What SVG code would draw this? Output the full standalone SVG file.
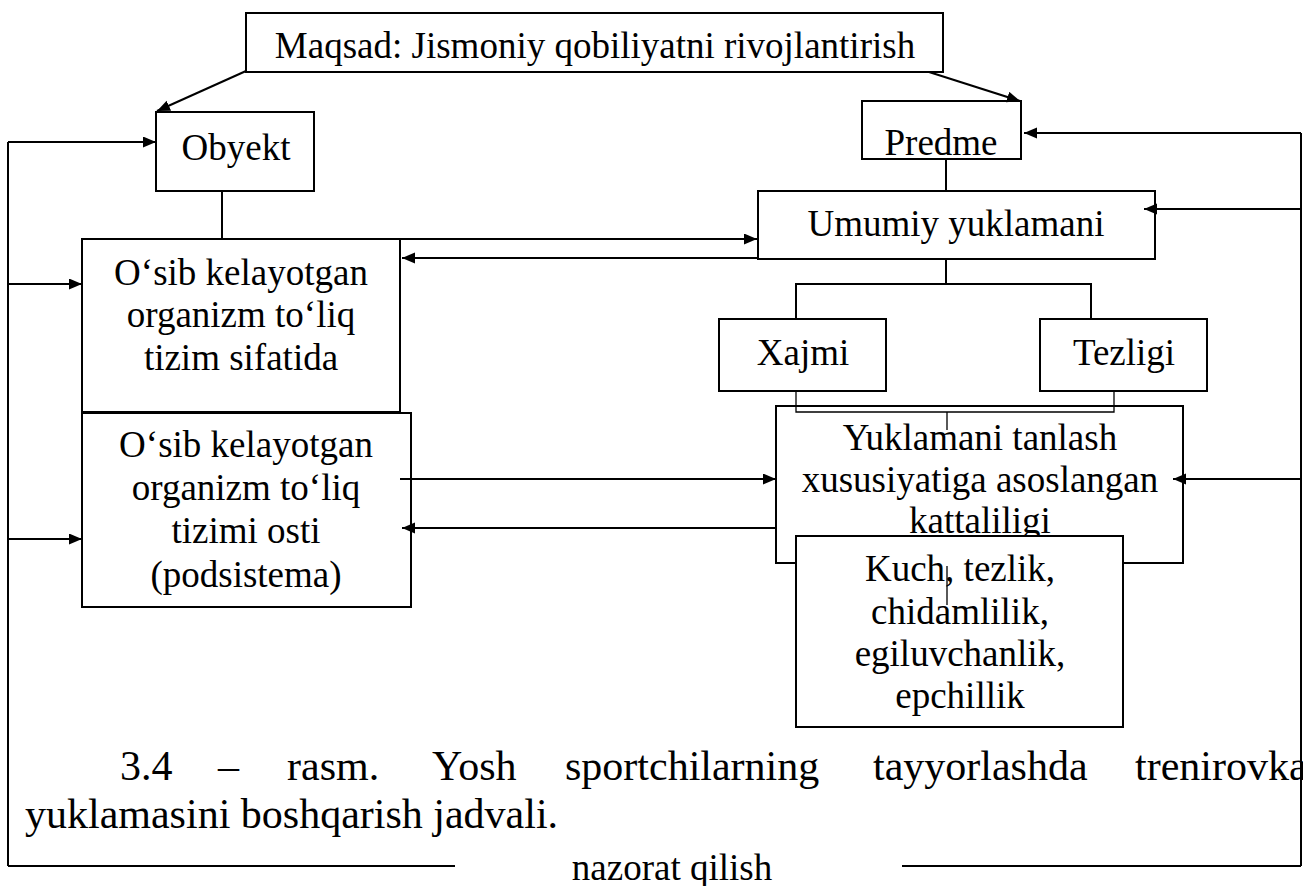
<svg xmlns="http://www.w3.org/2000/svg" width="1303" height="886" viewBox="0 0 1303 886">
<defs>
<marker id="ah" markerUnits="userSpaceOnUse" markerWidth="14" markerHeight="12" refX="13" refY="5.5" orient="auto">
<path d="M0,0 L13,5.5 L0,11 z" fill="#000"/>
</marker>
</defs>
<g id="nodes" font-family="Liberation Serif, serif" font-size="37" text-anchor="middle" stroke-width="2">
<g id="goal"><rect x="246" y="13" width="697" height="59" fill="none" stroke="#000"/><text x="595" y="58">Maqsad: Jismoniy qobiliyatni rivojlantirish</text></g>
<g id="obyekt"><rect x="156" y="112" width="158" height="79" fill="none" stroke="#000"/><text x="236" y="160">Obyekt</text></g>
<g id="predme"><rect x="862" y="101" width="159" height="58" fill="none" stroke="#000"/><text x="941" y="155">Predme</text></g>
<g id="umumiy"><rect x="758" y="191" width="397" height="68" fill="none" stroke="#000"/><text x="956" y="236">Umumiy yuklamani</text></g>
<g id="organizm"><rect x="82" y="239" width="318" height="173" fill="none" stroke="#000"/><text x="241" y="285">O‘sib kelayotgan</text><text x="241" y="327">organizm to‘liq</text><text x="241" y="370">tizim sifatida</text></g>
<g id="podsistema"><rect x="82" y="413" width="329" height="194" fill="none" stroke="#000"/><text x="246" y="457">O‘sib kelayotgan</text><text x="246" y="500">organizm to‘liq</text><text x="246" y="543">tizimi osti</text><text x="246" y="587">(podsistema)</text></g>
<g id="xajmi"><rect x="719" y="319" width="167" height="72" fill="none" stroke="#000"/><text x="803" y="365">Xajmi</text></g>
<g id="tezligi"><rect x="1040" y="319" width="167" height="72" fill="none" stroke="#000"/><text x="1124" y="365">Tezligi</text></g>
<g id="yuklama"><rect x="776" y="406" width="407" height="157" fill="none" stroke="#000"/><text x="980" y="450">Yuklamani tanlash</text><text x="980" y="492">xususiyatiga asoslangan</text><text x="980" y="533">kattaliligi</text></g>
<g id="kuch"><rect x="796" y="536" width="327" height="191" fill="#fff" stroke="#000"/><text x="960" y="581">Kuch, tezlik,</text><text x="960" y="624">chidamlilik,</text><text x="960" y="666">egiluvchanlik,</text><text x="960" y="708">epchillik</text></g>
</g>
<g id="connectors" stroke="#000" stroke-width="2" fill="none">
<line marker-end="url(#ah)" x1="246" y1="71" x2="157" y2="111"/>
<line marker-end="url(#ah)" x1="929" y1="72" x2="1020" y2="101"/>
<line x1="222" y1="191" x2="222" y2="239"/>
<line x1="946" y1="159" x2="946" y2="191"/>
<path d="M946,259 V284 M796,319 V284 H1091 V319"/>
<path stroke-width="1.3" d="M796,391 V412 H1114 V391 M947,412 V430 M947,566 V605"/>
<line marker-end="url(#ah)" x1="400" y1="239" x2="757" y2="239"/>
<line marker-end="url(#ah)" x1="758" y1="258" x2="402" y2="258"/>
<line marker-end="url(#ah)" x1="400" y1="479" x2="776" y2="479"/>
<line marker-end="url(#ah)" x1="776" y1="528" x2="402" y2="528"/>
<path d="M8,866 V142"/>
<line marker-end="url(#ah)" x1="8" y1="142" x2="156" y2="142"/>
<line marker-end="url(#ah)" x1="8" y1="284" x2="82" y2="284"/>
<line marker-end="url(#ah)" x1="8" y1="539" x2="82" y2="539"/>
<path d="M1301,133 V866"/>
<line marker-end="url(#ah)" x1="1301" y1="133" x2="1024" y2="133"/>
<line marker-end="url(#ah)" x1="1301" y1="209" x2="1144" y2="209"/>
<line marker-end="url(#ah)" x1="1301" y1="479" x2="1173" y2="479"/>
<path d="M8,866 H455 M902,866 H1301"/>
</g>
<text font-family="Liberation Serif, serif" font-size="37" text-anchor="middle" x="672" y="880">nazorat qilish</text>
<g id="caption" font-family="Liberation Serif, serif" font-size="42">
<text x="120" y="780">3.4</text>
<text x="218" y="780">–</text>
<text x="287" y="780">rasm.</text>
<text x="432" y="780">Yosh</text>
<text x="565" y="780">sportchilarning</text>
<text x="873" y="780">tayyorlashda</text>
<text x="1135" y="780">trenirovka</text>
<text x="25" y="828">yuklamasini boshqarish jadvali.</text>
</g>
</svg>
